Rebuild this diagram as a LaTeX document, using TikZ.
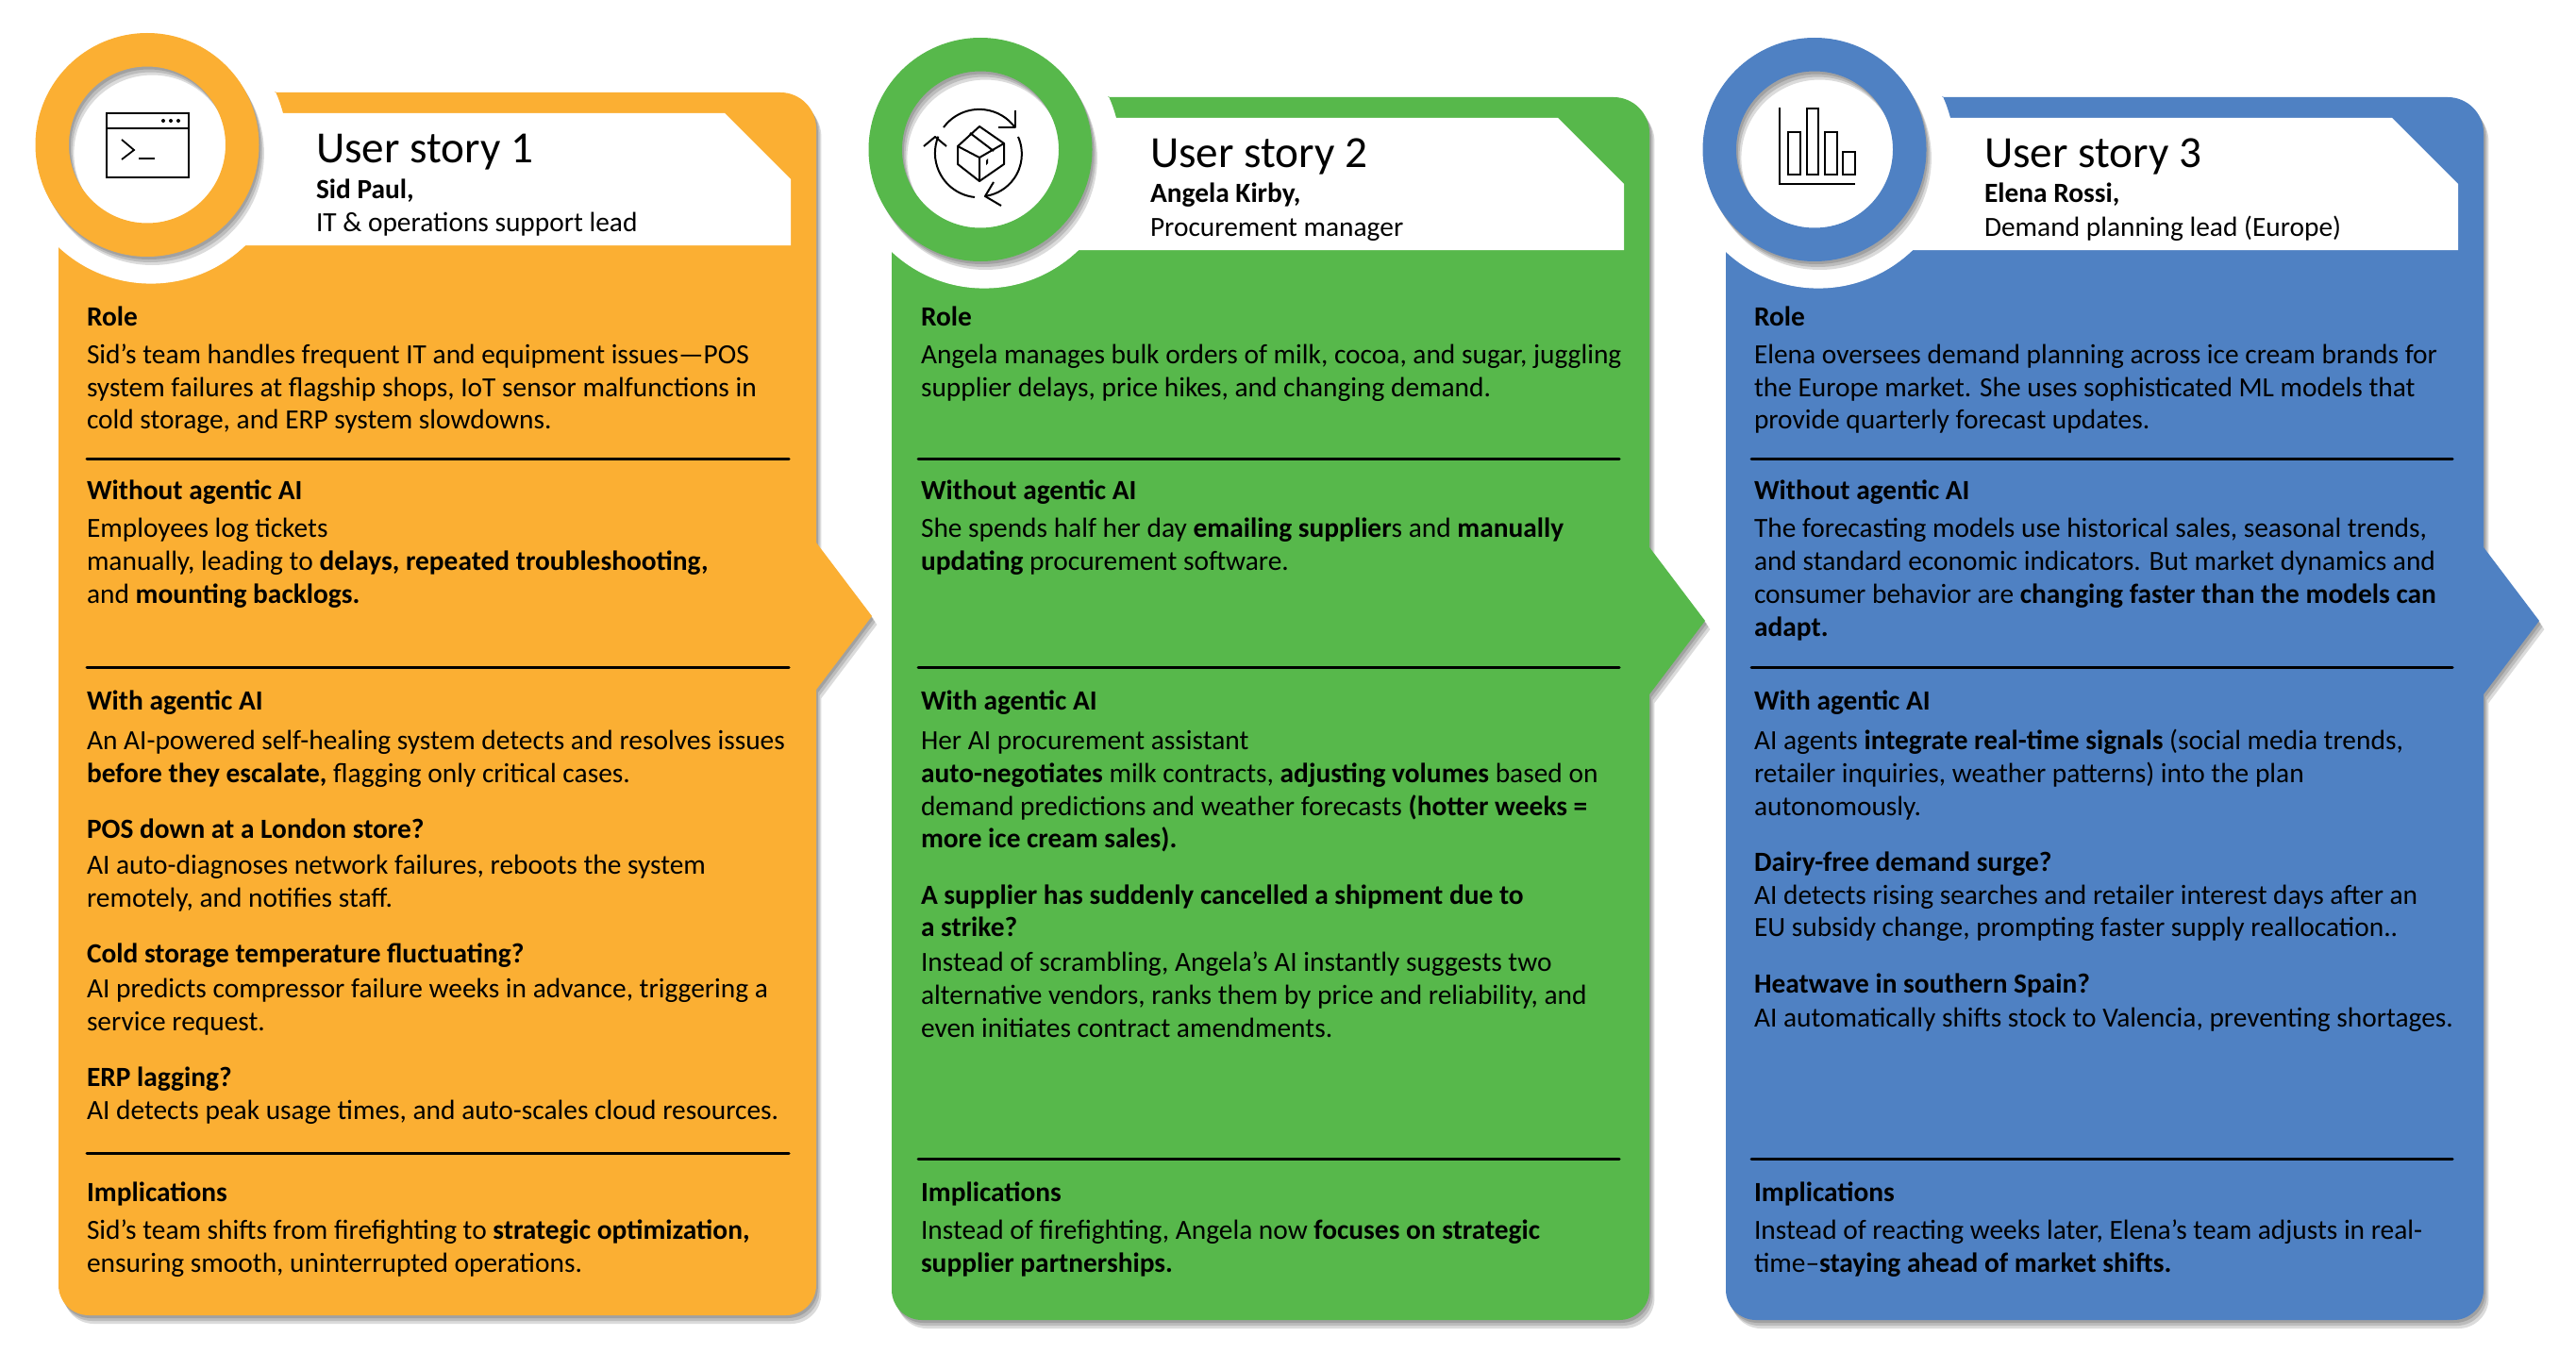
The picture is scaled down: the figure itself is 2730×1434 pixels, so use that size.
\documentclass[tikz,border=0pt]{standalone}
\usepackage{fontspec}
\setmainfont{Carlito}
\definecolor{orangeP}{HTML}{FBAF33}
\definecolor{greenP}{HTML}{57B84B}
\definecolor{blueP}{HTML}{4F81C3}
\newcommand{\bodyfont}{\fontsize{14.7}{17.4}\selectfont}
\newcommand{\hdfont}{\fontsize{14.7}{17.4}\selectfont\bfseries}
\tikzset{
  x=0.5pt,y=0.5pt,
  bodytxt/.style={anchor=north west,inner sep=0pt,outer sep=0pt,align=left,font=\bodyfont,text=black},
  headtxt/.style={bodytxt,font=\hdfont},
  storytitle/.style={anchor=base west,inner sep=0pt,outer sep=0pt,font=\fontsize{23.6}{26}\selectfont,text=black},
  sep/.style={line width=1.5pt,black,line cap=round},
  icn/.style={line width=1.2pt,black},
}
% #1 name #2 x #3 y-centre in shrunk px #4 text
\newcommand{\blk}[4]{%
  \pgfmathsetmacro{\py}{1.741*#3+11-24.36}%
  \node[bodytxt] (#1) at (#2,-\py) {\strut #4};}
\newcommand{\hd}[4]{%
  \pgfmathsetmacro{\py}{1.741*#3+11-24.36}%
  \node[headtxt] (#1) at (#2,-\py) {\strut #4};}
\newcommand{\panelshape}{%
  (229,0) -- (765,0) arc[start angle=90,end angle=0,radius=38] -- (803,-477) -- (862,-555) -- (803,-633)
  -- (803,-1264) arc[start angle=0,end angle=-90,radius=32] -- (32,-1296)
  arc[start angle=-90,end angle=-180,radius=32] -- (0,-162)
  arc[start angle=226.4,end angle=384.2,radius=143.6] -- cycle}
\newcommand{\ringshape}{(94,-55.5) circle[radius=118.5] (94,-55.5) circle[radius=83]}
% #1 x #2 y #3 colour
\newcommand{\panel}[3]{%
  \begin{scope}[shift={(#1,-#2)}]
    \foreach \d in {9,6,3}{
      \begin{scope}[shift={(\d*0.6,-\d)}]
        \fill[black,opacity=0.14] \panelshape;
      \end{scope}}
    \fill[#3] \panelshape;
    \fill[white] (98,-59) circle[radius=143.6];
    \fill[white] (236.5,-22) -- (706,-22) -- (776,-92) -- (776,-162) -- (150,-162) -- (150,-22) -- cycle;
    \foreach \d in {9,6,3}{
      \begin{scope}[shift={(\d*0.6,-\d)}]
        \fill[black,opacity=0.14,even odd rule] \ringshape;
      \end{scope}}
    \fill[#3,even odd rule] \ringshape;
  \end{scope}}
\begin{document}
\begin{tikzpicture}
\useasboundingbox (0,0) rectangle (2730,-1434);
\fill[white] (0,0) rectangle (2730,-1434);

\panel{62}{98}{orangeP}
\panel{945}{103}{greenP}
\panel{1829}{103}{blueP}

% ---- icon 1
\draw[icn] (113,-120) rectangle (200,-188);
\draw[icn] (113,-136) -- (200,-136);
\fill (173,-128) circle[radius=2] (181,-128) circle[radius=2] (189,-128) circle[radius=2];
\draw[icn,line width=0.9pt] (129,-148) -- (142,-159) -- (129,-169);
\draw[icn,line width=0.9pt] (147,-168) -- (164,-168);

% ---- icon 2
\draw[icn,line width=1pt] (1000,-135) arc[start angle=143.6,end angle=36,radius=47];
\draw[icn,line width=1pt,line join=round] (1076,-117) -- (1076,-135) -- (1058,-135);
\draw[icn,line width=1pt] (1079,-145) arc[start angle=24,end angle=-81,radius=45];
\draw[icn,line width=1pt,line join=round] (1053,-193) -- (1044,-208) -- (1061,-218);
\draw[icn,line width=1pt] (1033,-209) arc[start angle=-96,end angle=-202,radius=47];
\draw[icn,line width=1pt,line join=round] (979,-155) -- (991,-145) -- (1003,-155);
\draw[icn,line width=1pt,line join=round] (1038,-134) -- (1064,-152) -- (1064,-174) -- (1038,-192) -- (1015,-174) -- (1015,-155) -- cycle;
\draw[icn,line width=1pt,line join=round] (1015,-155) -- (1038,-167) -- (1064,-152) (1038,-167) -- (1038,-192);
\draw[icn,line width=1pt,line join=round] (1028,-141) -- (1053,-160);
\fill (1045,-170) -- (1047,-168) -- (1047,-173) -- (1045,-175) -- cycle;

% ---- icon 3
\draw[icn,line width=1pt] (1886,-114) -- (1886,-195) -- (1966,-195);
\draw[icn,line width=1pt] (1895,-140) rectangle (1908,-185);
\draw[icn,line width=1pt] (1914.5,-115) rectangle (1927,-185);
\draw[icn,line width=1pt] (1934,-140) rectangle (1947,-185);
\draw[icn,line width=1pt] (1953,-161) rectangle (1966,-185);

% ---- headers
\node[storytitle] (t1) at (335,-172) {User story 1};
\node[storytitle,font=\hdfont] (n1) at (335,-210) {Sid Paul,};
\node[storytitle,font=\bodyfont] (r1) at (335,-245) {IT \& operations support lead};
\node[storytitle] (t2) at (1219,-177) {User story 2};
\node[storytitle,font=\hdfont] (n2) at (1219,-214) {Angela Kirby,};
\node[storytitle,font=\bodyfont] (r2) at (1219,-250) {Procurement manager};
\node[storytitle] (t3) at (2103,-177) {User story 3};
\node[storytitle,font=\hdfont] (n3) at (2103,-214) {Elena Rossi,};
\node[storytitle,font=\bodyfont] (r3) at (2103,-250) {Demand planning lead (Europe)};

% ---- panel 1 text
\hd{a1}{92}{192}{Role}
\blk{a2}{92}{215}{Sid’s team handles frequent IT and equipment issues—POS\\\strut system failures at flagship shops, IoT sensor malfunctions in\\\strut cold storage, and ERP system slowdowns.}
\draw[sep] (92,-486) -- (836,-486);
\hd{a3}{92}{298}{Without agentic AI}
\blk{a4}{92}{321}{Employees log tickets\\\strut manually, leading to \textbf{delays, repeated troubleshooting,}\\\strut and \textbf{mounting backlogs.}}
\draw[sep] (92,-707) -- (836,-707);
\hd{a5}{92}{426}{With agentic AI}
\blk{a6}{92}{450}{An AI-powered self-healing system detects and resolves issues\\\strut \textbf{before they escalate,} flagging only critical cases.}
\hd{a7}{92}{504}{POS down at a London store?}
\blk{a8}{92}{526}{AI auto-diagnoses network failures, reboots the system\\\strut remotely, and notifies staff.}
\hd{a9}{92}{580}{Cold storage temperature fluctuating?}
\blk{a10}{92}{601}{AI predicts compressor failure weeks in advance, triggering a\\\strut service request.}
\hd{a11}{92}{655}{ERP lagging?}
\blk{a12}{92}{675}{AI detects peak usage times, and auto-scales cloud resources.}
\draw[sep] (92,-1222) -- (836,-1222);
\hd{a13}{92}{725}{Implications}
\blk{a14}{92}{748}{Sid’s team shifts from firefighting to \textbf{strategic optimization,}\\\strut ensuring smooth, uninterrupted operations.}

% ---- panel 2 text
\hd{b1}{976}{192}{Role}
\blk{b2}{976}{215}{Angela manages bulk orders of milk, cocoa, and sugar, juggling\\\strut supplier delays, price hikes, and changing demand.}
\draw[sep] (973,-486) -- (1716,-486);
\hd{b3}{976}{298}{Without agentic AI}
\blk{b4}{976}{321}{She spends half her day \textbf{emailing supplier}s and \textbf{manually}\\\strut \textbf{updating} procurement software.}
\draw[sep] (973,-707) -- (1716,-707);
\hd{b5}{976}{426}{With agentic AI}
\blk{b6}{976}{450}{Her AI procurement assistant\\\strut \textbf{auto-negotiates} milk contracts, \textbf{adjusting volumes} based on\\\strut demand predictions and weather forecasts \textbf{(hotter weeks =}\\\strut \textbf{more ice cream sales).}}
\hd{b7}{976}{544}{A supplier has suddenly cancelled a shipment due to\\\strut a strike?}
\blk{b8}{976}{585}{Instead of scrambling, Angela’s AI instantly suggests two\\\strut alternative vendors, ranks them by price and reliability, and\\\strut even initiates contract amendments.}
\draw[sep] (973,-1228) -- (1716,-1228);
\hd{b9}{976}{725}{Implications}
\blk{b10}{976}{748}{Instead of firefighting, Angela now \textbf{focuses on strategic}\\\strut \textbf{supplier partnerships.}}

% ---- panel 3 text
\hd{c1}{1859}{192}{Role}
\blk{c2}{1859}{215}{Elena oversees demand planning across ice cream brands for\\\strut the Europe market. She uses sophisticated ML models that\\\strut provide quarterly forecast updates.}
\draw[sep] (1856,-486) -- (2599,-486);
\hd{c3}{1859}{298}{Without agentic AI}
\blk{c4}{1859}{321}{The forecasting models use historical sales, seasonal trends,\\\strut and standard economic indicators. But market dynamics and\\\strut consumer behavior are \textbf{changing faster than the models can}\\\strut \textbf{adapt.}}
\draw[sep] (1856,-707) -- (2599,-707);
\hd{c5}{1859}{426}{With agentic AI}
\blk{c6}{1859}{450}{AI agents \textbf{integrate real-time signals} (social media trends,\\\strut retailer inquiries, weather patterns) into the plan\\\strut autonomously.}
\hd{c7}{1859}{524}{Dairy-free demand surge?}
\blk{c8}{1859}{544}{AI detects rising searches and retailer interest days after an\\\strut EU subsidy change, prompting faster supply reallocation..}
\hd{c9}{1859}{598}{Heatwave in southern Spain?}
\blk{c10}{1859}{619}{AI automatically shifts stock to Valencia, preventing shortages.}
\draw[sep] (1856,-1228) -- (2599,-1228);
\hd{c11}{1859}{725}{Implications}
\blk{c12}{1859}{748}{Instead of reacting weeks later, Elena’s team adjusts in real-\\\strut time–\textbf{staying ahead of market shifts.}}
\end{tikzpicture}
\end{document}
